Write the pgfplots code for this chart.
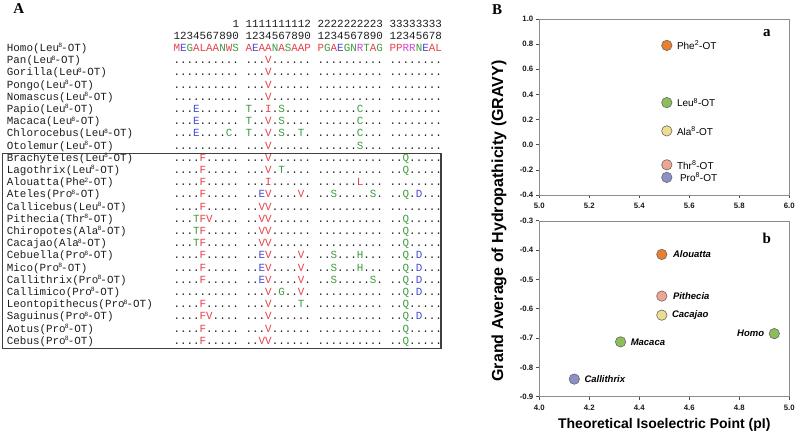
\documentclass[border=0pt]{standalone}
\usepackage{fontspec}
\setmainfont{Liberation Sans}
\setmonofont{Liberation Mono}
\newfontfamily\serifb{Liberation Serif}
\usepackage{pgfplots}
\pgfplotsset{compat=1.18}
\definecolor{cR}{HTML}{E8404A}
\definecolor{cB}{HTML}{4848D8}
\definecolor{cG}{HTML}{3E9C3E}
\definecolor{cM}{HTML}{D048D8}
\definecolor{cTxt}{HTML}{1E1E1E}
\definecolor{pOr}{HTML}{EC7F2C}
\definecolor{pGr}{HTML}{8CBF5A}
\definecolor{pYe}{HTML}{EDDD8E}
\definecolor{pSa}{HTML}{F0A592}
\definecolor{pLa}{HTML}{8C90C8}
\newcommand\R[1]{\textcolor{cR}{#1}}
\newcommand\B[1]{\textcolor{cB}{#1}}
\newcommand\G[1]{\textcolor{cG}{#1}}
\newcommand\M[1]{\textcolor{cM}{#1}}
\newcommand\sups[1]{\makebox[2pt][c]{\raisebox{3.6pt}{\fontsize{6.5}{6.5}\selectfont #1}}}
\newcommand\seqfont{\fontsize{10.9}{12}\ttfamily\color{cTxt}}
\newcommand\row[6]{%
  \node[anchor=base west,inner sep=0pt,font=\seqfont] at (6.7,{438-(48.3+12.2*#1)-3.3}) {#2};
  \node[anchor=base west,inner sep=0pt,font=\seqfont] at (173.3,{438-(48.3+12.2*#1)-3.3}) {#3};
  \node[anchor=base west,inner sep=0pt,font=\seqfont] at (245.4,{438-(48.3+12.2*#1)-3.3}) {#4};
  \node[anchor=base west,inner sep=0pt,font=\seqfont] at (317.4,{438-(48.3+12.2*#1)-3.3}) {#5};
  \node[anchor=base west,inner sep=0pt,font=\seqfont] at (389.4,{438-(48.3+12.2*#1)-3.3}) {#6};
}
\begin{document}
\begin{tikzpicture}[x=1pt,y=1pt]
\useasboundingbox (0,0) rectangle (800,438);
% ---------------- Panel A ----------------
\node[font=\serifb\bfseries\fontsize{15}{15}\selectfont,inner sep=0pt] at (18.7,{438-9}) {A};
% header
\node[anchor=base west,inner sep=0pt,font=\seqfont] at (232.3,{438-23.9-3.3}) {1};
\node[anchor=base west,inner sep=0pt,font=\seqfont] at (245.4,{438-23.9-3.3}) {1111111112};
\node[anchor=base west,inner sep=0pt,font=\seqfont] at (317.4,{438-23.9-3.3}) {2222222223};
\node[anchor=base west,inner sep=0pt,font=\seqfont] at (389.4,{438-23.9-3.3}) {33333333};
\node[anchor=base west,inner sep=0pt,font=\seqfont] at (173.3,{438-36.1-3.3}) {1234567890};
\node[anchor=base west,inner sep=0pt,font=\seqfont] at (245.4,{438-36.1-3.3}) {1234567890};
\node[anchor=base west,inner sep=0pt,font=\seqfont] at (317.4,{438-36.1-3.3}) {1234567890};
\node[anchor=base west,inner sep=0pt,font=\seqfont] at (389.4,{438-36.1-3.3}) {12345678};
\row{0}{Homo(Leu\sups{8}-OT)}{\R{M}\B{E}\G{G}\R{A}\R{L}\R{A}\R{A}\G{N}\R{W}\G{S}}{\R{A}\B{E}\R{A}\R{A}\G{N}\R{A}\G{S}\R{A}\R{A}\R{P}}{\R{P}\G{G}\R{A}\B{E}\G{G}\G{N}\M{R}\G{T}\R{A}\G{G}}{\R{P}\R{P}\M{R}\M{R}\G{N}\B{E}\R{A}\R{L}}
\row{1}{Pan(Leu\sups{8}-OT)}{..........}{...\R{V}......}{..........}{........}
\row{2}{Gorilla(Leu\sups{8}-OT)}{..........}{...\R{V}......}{..........}{........}
\row{3}{Pongo(Leu\sups{8}-OT)}{..........}{...\R{V}......}{..........}{........}
\row{4}{Nomascus(Leu\sups{8}-OT)}{..........}{...\R{V}......}{..........}{........}
\row{5}{Papio(Leu\sups{8}-OT)}{...\B{E}......}{\G{T}..\R{I}.\G{S}....}{......\G{C}...}{........}
\row{6}{Macaca(Leu\sups{8}-OT)}{...\B{E}......}{\G{T}..\R{V}.\G{S}....}{......\G{C}...}{........}
\row{7}{Chlorocebus(Leu\sups{8}-OT)}{...\B{E}....\G{C}.}{\G{T}..\R{V}.\G{S}..\G{T}.}{......\G{C}...}{........}
\row{8}{Otolemur(Leu\sups{8}-OT)}{..........}{...\R{V}......}{......\G{S}...}{........}
\row{9}{Brachyteles(Leu\sups{8}-OT)}{....\R{F}.....}{...\R{V}......}{..........}{..\G{Q}.....}
\row{10}{Lagothrix(Leu\sups{8}-OT)}{....\R{F}.....}{...\R{V}.\G{T}....}{..........}{..\G{Q}.....}
\row{11}{Alouatta(Phe\sups{2}-OT)}{....\R{F}.....}{...\R{I}......}{......\R{L}...}{........}
\row{12}{Ateles(Pro\sups{8}-OT)}{....\R{F}.....}{..\B{E}\R{V}....\R{V}.}{..\G{S}.....\G{S}.}{..\G{Q}.\B{D}...}
\row{13}{Callicebus(Leu\sups{8}-OT)}{....\R{F}.....}{..\R{V}\R{V}......}{..........}{........}
\row{14}{Pithecia(Thr\sups{8}-OT)}{...\G{T}\R{F}\R{V}....}{..\R{V}\R{V}......}{..........}{..\G{Q}.....}
\row{15}{Chiropotes(Ala\sups{8}-OT)}{...\G{T}\R{F}.....}{..\R{V}\R{V}......}{..........}{..\G{Q}.....}
\row{16}{Cacajao(Ala\sups{8}-OT)}{...\G{T}\R{F}.....}{..\R{V}\R{V}......}{..........}{..\G{Q}.....}
\row{17}{Cebuella(Pro\sups{8}-OT)}{....\R{F}.....}{..\B{E}\R{V}....\R{V}.}{..\G{S}...\G{H}...}{..\G{Q}.\B{D}...}
\row{18}{Mico(Pro\sups{8}-OT)}{....\R{F}.....}{..\B{E}\R{V}....\R{V}.}{..\G{S}...\G{H}...}{..\G{Q}.\B{D}...}
\row{19}{Callithrix(Pro\sups{8}-OT)}{....\R{F}.....}{..\B{E}\R{V}....\R{V}.}{..\G{S}.....\G{S}.}{..\G{Q}.\B{D}...}
\row{20}{Callimico(Pro\sups{8}-OT)}{..........}{...\R{V}.\G{G}..\R{V}.}{..........}{..\G{Q}.\B{D}...}
\row{21}{Leontopithecus(Pro\sups{8}-OT)}{....\R{F}.....}{...\R{V}....\G{T}.}{..........}{..\G{Q}.....}
\row{22}{Saguinus(Pro\sups{8}-OT)}{....\R{F}\R{V}....}{...\R{V}......}{..........}{..\G{Q}.\B{D}...}
\row{23}{Aotus(Pro\sups{8}-OT)}{....\R{F}.....}{...\R{V}......}{..........}{..\G{Q}.....}
\row{24}{Cebus(Pro\sups{8}-OT)}{....\R{F}.....}{..\R{V}\R{V}......}{..........}{..\G{Q}.....}
\draw[line width=1.2pt,draw=black!75] (2.7,{438-153.3}) rectangle (441,{438-348.3});
% ---------------- Panel B ----------------
\node[font=\serifb\bfseries\fontsize{15}{15}\selectfont,inner sep=0pt] at (497,{438-10}) {B};
\node[rotate=90,font=\bfseries\fontsize{16}{16}\selectfont,inner sep=0pt] at (499,{438-221}) {Grand Average of Hydropathicity (GRAVY)};
\pgfplotsset{bstyle/.style={
  scale only axis, width=250pt, height=176pt, anchor=south west,
  axis line style={draw=black!45},
  tick pos=left, tick align=outside, major tick length=3pt,
  tick style={draw=black!70, line width=0.5pt},
  ticklabel style={font=\bfseries\fontsize{7.8}{8}\selectfont, text=black!90},
  xticklabel style={yshift=-1.5pt},
  yticklabel style={xshift=0.5pt},
  /pgf/number format/.cd, fixed, fixed zerofill, precision=1, assume math mode=true,
  /pgfplots/.cd,
  clip=false,
  pt/.style={only marks, mark=*, mark size=5.2pt, mark options={draw=black!60, line width=0.6pt, fill=##1}},
}}
\begin{axis}[bstyle, at={(539.3pt,243pt)},
  xmin=5, xmax=6, ymin=-0.4, ymax=1.0,
  xtick={5.0,5.2,5.4,5.6,5.8,6.0}, ytick={-0.4,-0.2,0.0,0.2,0.4,0.6,0.8,1.0}]
\addplot[pt=pOr] coordinates {(5.51,0.79)};
\addplot[pt=pGr] coordinates {(5.51,0.335)};
\addplot[pt=pYe] coordinates {(5.51,0.11)};
\addplot[pt=pSa] coordinates {(5.51,-0.16)};
\addplot[pt=pLa] coordinates {(5.51,-0.26)};
\node[anchor=west,font=\fontsize{10}{10}\selectfont,inner sep=0pt] at (axis cs:5.51,0.79) [xshift=10pt] {Phe\textsuperscript{2}-OT};
\node[anchor=west,font=\fontsize{10}{10}\selectfont,inner sep=0pt] at (axis cs:5.51,0.335) [xshift=10pt] {Leu\textsuperscript{8}-OT};
\node[anchor=west,font=\fontsize{10}{10}\selectfont,inner sep=0pt] at (axis cs:5.51,0.11) [xshift=10pt] {Ala\textsuperscript{8}-OT};
\node[anchor=west,font=\fontsize{10}{10}\selectfont,inner sep=0pt] at (axis cs:5.51,-0.16) [xshift=10pt] {Thr\textsuperscript{8}-OT};
\node[anchor=west,font=\fontsize{10}{10}\selectfont,inner sep=0pt] at (axis cs:5.51,-0.26) [xshift=13pt] {Pro\textsuperscript{8}-OT};
\node[font=\serifb\bfseries\fontsize{15}{15}\selectfont,inner sep=0pt] at (rel axis cs:0.91,0.92) {a};
\end{axis}
\begin{axis}[bstyle, at={(539.3pt,41.3pt)},
  xmin=4, xmax=5, ymin=-0.9, ymax=-0.3,
  xtick={4.0,4.2,4.4,4.6,4.8,5.0}, ytick={-0.9,-0.8,-0.7,-0.6,-0.5,-0.4,-0.3},
  xlabel={Theoretical Isoelectric Point (pI)},
  xlabel style={font=\bfseries\fontsize{14}{14}\selectfont, yshift=-1pt}]
\addplot[pt=pOr] coordinates {(4.49,-0.415)};
\addplot[pt=pSa] coordinates {(4.49,-0.557)};
\addplot[pt=pYe] coordinates {(4.49,-0.622)};
\addplot[pt=pGr] coordinates {(4.94,-0.685)};
\addplot[pt=pGr] coordinates {(4.325,-0.713)};
\addplot[pt=pLa] coordinates {(4.14,-0.84)};
\node[anchor=west,font=\bfseries\itshape\fontsize{9.5}{10}\selectfont,inner sep=0pt] at (axis cs:4.49,-0.415) [xshift=11pt] {Alouatta};
\node[anchor=west,font=\bfseries\itshape\fontsize{9.5}{10}\selectfont,inner sep=0pt] at (axis cs:4.49,-0.557) [xshift=11pt] {Pithecia};
\node[anchor=west,font=\bfseries\itshape\fontsize{9.5}{10}\selectfont,inner sep=0pt] at (axis cs:4.49,-0.622) [xshift=10pt] {Cacajao};
\node[anchor=east,font=\bfseries\itshape\fontsize{9.5}{10}\selectfont,inner sep=0pt] at (axis cs:4.94,-0.685) [xshift=-10pt] {Homo};
\node[anchor=west,font=\bfseries\itshape\fontsize{9.5}{10}\selectfont,inner sep=0pt] at (axis cs:4.325,-0.713) [xshift=10pt] {Macaca};
\node[anchor=west,font=\bfseries\itshape\fontsize{9.5}{10}\selectfont,inner sep=0pt] at (axis cs:4.14,-0.84) [xshift=10pt] {Callithrix};
\node[font=\serifb\bfseries\fontsize{15}{15}\selectfont,inner sep=0pt] at (rel axis cs:0.91,0.9) {b};
\end{axis}
\end{tikzpicture}
\end{document}
